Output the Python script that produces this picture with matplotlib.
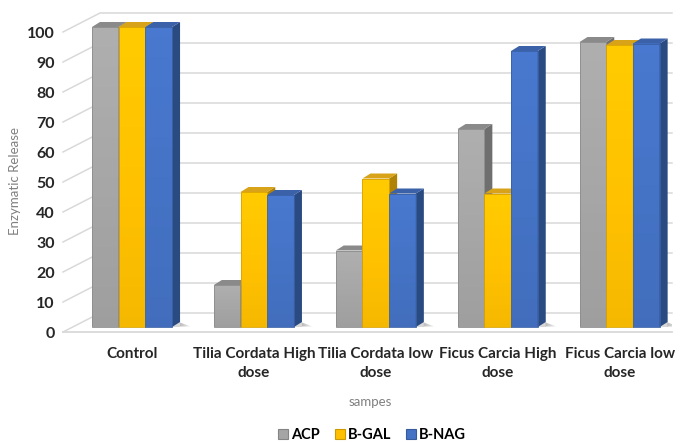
import matplotlib.pyplot as plt
import matplotlib.patches as patches
import numpy as np
from matplotlib.colors import to_rgb

plt.rcParams['font.family'] = ['Lato', 'DejaVu Sans']

categories = ['Control', 'Tilia Cordata High\ndose', 'Tilia Cordata low\ndose',
              'Ficus Carcia High\ndose', 'Ficus Carcia low\ndose']
series_names = ['ACP', 'B-GAL', 'B-NAG']
acp = [100, 14, 25.5, 66, 95]
b_gal = [100, 45, 49.5, 44.5, 94]
b_nag = [100, 44, 44.5, 92, 94.5]
y_ticks = list(range(0, 101, 10))

# front, side, top colours for each series
face_colors = ['#a5a5a5', '#ffc000', '#4472c4']
side_colors = ['#6f6f6f', '#b08205', '#2a4a82']
top_colors = ['#8a8a8a', '#d8a318', '#3b62a8']

fig = plt.figure(figsize=(6.9, 4.42), dpi=100)
ax = fig.add_axes([63 / 690, 110 / 442, 609 / 690, 319 / 442])

# data units per pixel
px_x = 1 / 121.9
px_y = 1 / 3.0
x_lo, x_hi = -69 * px_x, 540 * px_x
ax.set_xlim(x_lo, x_hi)
ax.set_ylim(0, 319 * px_y)

# back wall offset and bar depth
wall_dx, wall_dy = 37 * px_x, 19 * px_y
bar_dx, bar_dy = 8 * px_x, 5 * px_y
bar_base = 5 * px_y
bar_w = 26.7 * px_x

grid_col = '#d9d9d9'
for v in y_ticks:
    ax.plot([x_lo, x_lo + wall_dx, x_hi], [v, v + wall_dy, v + wall_dy],
            color=grid_col, lw=1.1, zorder=1, clip_on=False)
ax.plot([x_lo, x_hi], [0, 0], color=grid_col, lw=1.3, zorder=1, clip_on=False)


def shade(c, f):
    r, g, b = to_rgb(c)
    return (min(r * f, 1), min(g * f, 1), min(b * f, 1))


def draw_shadow(xl, xr, y0):
    # fading smear on the floor to the right of a group
    n = 12
    for j in range(n):
        t0, t1 = j / n, (j + 1) / n
        xa = xr + bar_dx + 12 * px_x * t0
        xb = xr + bar_dx + 12 * px_x * t1
        ax.add_patch(patches.Polygon([(xa, y0 + bar_dy * (1 - t0) * 0.9), (xb, y0 + bar_dy * (1 - t1) * 0.9),
                                      (xb, y0 + bar_dy * 0.1), (xa, y0 + bar_dy * 0.1)],
                                     closed=True, facecolor='#404040', edgecolor='none',
                                     alpha=0.35 * (1 - t0), zorder=2))
    ax.add_patch(patches.Rectangle((xl + bar_dx, y0), xr - xl, bar_dy, facecolor='#606060',
                                   edgecolor='none', alpha=0.25, zorder=2))


def draw_bar(xc, v, k):
    xl, xr = xc - bar_w / 2, xc + bar_w / 2
    y0, y1 = bar_base, bar_base + v
    # front face with a light vertical gradient
    n = 30
    ys = np.linspace(y0, y1, n + 1)
    for j in range(n):
        f = 0.96 + 0.10 * (j / n)
        ax.add_patch(patches.Rectangle((xl, ys[j]), bar_w, ys[j + 1] - ys[j],
                                       facecolor=shade(face_colors[k], f),
                                       edgecolor='none', zorder=3))
    ax.add_patch(patches.Rectangle((xl, y0), bar_w, v, facecolor='none',
                                   edgecolor=shade(face_colors[k], 0.85), lw=0.6, zorder=4))
    ax.add_patch(patches.Polygon([(xr, y0), (xr, y1), (xr + bar_dx, y1 + bar_dy),
                                  (xr + bar_dx, y0 + bar_dy)], closed=True,
                                 facecolor=side_colors[k], edgecolor='none', zorder=3))
    ax.add_patch(patches.Polygon([(xl, y1), (xr, y1), (xr + bar_dx, y1 + bar_dy),
                                  (xl + bar_dx, y1 + bar_dy)], closed=True,
                                 facecolor=top_colors[k], edgecolor='none', zorder=3))


x = np.arange(len(categories))
for i in range(len(categories)):
    draw_shadow(x[i] - 1.5 * bar_w, x[i] + 1.5 * bar_w, bar_base)
for k, vals in enumerate([acp, b_gal, b_nag]):
    for i, v in enumerate(vals):
        draw_bar(x[i] + (k - 1) * bar_w, v, k)

ax.set_yticks(y_ticks)
ax.set_yticklabels([str(t) for t in y_ticks], fontsize=11.5, fontweight='bold', color='#262626')
ax.set_xticks(x)
ax.set_xticklabels(categories, fontsize=11, fontweight='bold', color='#262626', linespacing=1.4)
ax.tick_params(axis='y', length=0, pad=6)
ax.tick_params(axis='x', length=0, pad=11)
for s in ax.spines.values():
    s.set_visible(False)

fig.text(15 / 690, 1 - 181 / 442, 'Enzymatic Release', rotation=90, ha='center', va='center',
         fontsize=9.5, color='#808080')
fig.text(370 / 690, 1 - 402 / 442, 'sampes', ha='center', va='center', fontsize=9.5, color='#808080')

handles = [patches.Patch(facecolor=face_colors[k], edgecolor=shade(face_colors[k], 0.8), lw=0.8)
           for k in range(3)]
fig.legend(handles, series_names, loc='center', bbox_to_anchor=(372 / 690, 1 - 435 / 442),
           ncol=3, frameon=False, handlelength=0.7, handleheight=0.7, handletextpad=0.2,
           columnspacing=1.0, prop={'weight': 'bold', 'size': 10.5})

fig.savefig('out.png', dpi=100)
